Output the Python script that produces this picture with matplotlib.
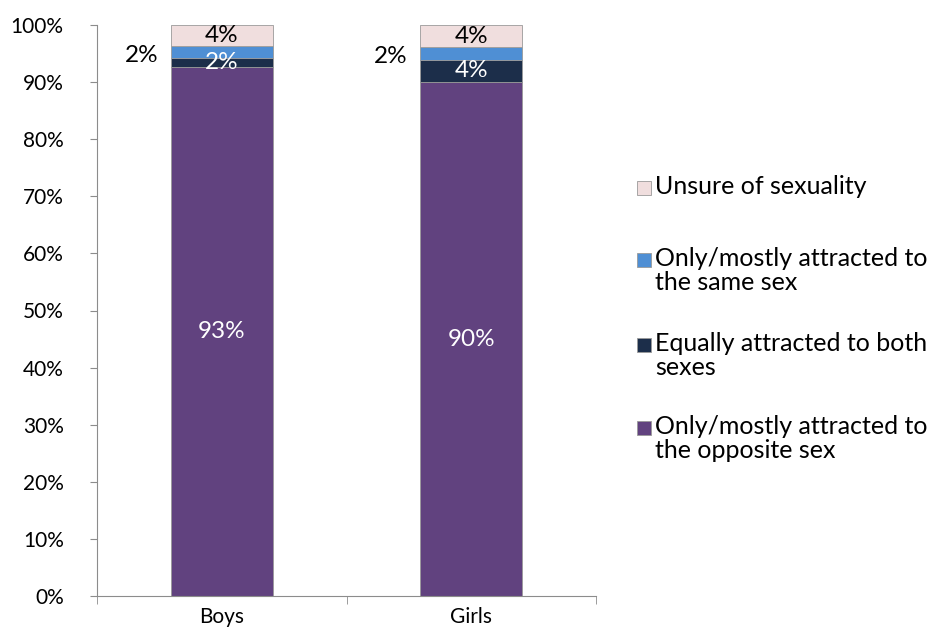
import matplotlib.pyplot as plt
from matplotlib.patches import Rectangle
import numpy as np

plt.rcParams['font.family'] = ['Lato', 'DejaVu Sans']

groups = ["Boys", "Girls"]
opposite = [92.6, 90.0]
both = [1.6, 3.9]
same = [2.1, 2.2]
unsure = [3.7, 3.9]

opposite_lbl = ["93%", "90%"]
both_lbl = ["2%", "4%"]
same_lbl = ["2%", "2%"]
unsure_lbl = ["4%", "4%"]

series = [
	(opposite, "Only/mostly attracted to\nthe opposite sex", "#61427f"),
	(both, "Equally attracted to both\nsexes", "#1c2e4a"),
	(same, "Only/mostly attracted to\nthe same sex", "#4f8fd4"),
	(unsure, "Unsure of sexuality", "#f0dede"),
]

W, H = 930, 633
fig = plt.figure(figsize=(W / 100, H / 100), dpi=100)
ax = fig.add_axes([97 / W, 1 - 596 / H, 499 / W, 571 / H])

x = np.arange(len(groups))
w = 0.41
bottom = np.zeros(len(groups))
for vals, name, col in series:
	ax.bar(x, vals, w, bottom=bottom, color=col, edgecolor="#9a9a9a", linewidth=0.6)
	bottom = bottom + np.array(vals)

lfs = 17.5
for i in range(len(groups)):
	ax.text(x[i], opposite[i] / 2, opposite_lbl[i], ha="center", va="center", color="white", fontsize=lfs)
	y_both = opposite[i] + both[i] / 2
	ax.text(x[i], y_both, both_lbl[i], ha="center", va="center", color="white", fontsize=lfs)
	y_same = opposite[i] + both[i] + same[i] / 2
	ax.text(x[i] - w / 2 - 0.05, y_same - 0.6, same_lbl[i], ha="right", va="center", color="black", fontsize=lfs)
	y_uns = opposite[i] + both[i] + same[i] + unsure[i] / 2
	ax.text(x[i], y_uns, unsure_lbl[i], ha="center", va="center", color="black", fontsize=lfs)

ax.set_xlim(-0.5, 1.5)
ax.set_ylim(0, 100)
ax.set_yticks(np.arange(0, 101, 10))
ax.set_yticklabels([f"{v}%" for v in range(0, 101, 10)], fontsize=15)
ax.set_xticks(x)
ax.set_xticklabels(groups, fontsize=15)
ax.tick_params(axis="x", which="major", length=0, pad=8)
ax.set_xticks([-0.5, 0.5, 1.5], minor=True)
ax.tick_params(axis="x", which="minor", length=6, color="#8c8c8c")
ax.tick_params(axis="y", length=5, color="#8c8c8c", pad=19)
for s in ["top", "right"]:
	ax.spines[s].set_visible(False)
for s in ["left", "bottom"]:
	ax.spines[s].set_color("#8c8c8c")

# legend, drawn like the Excel one: marker beside the first line of each entry
leg_y = [188, 260, 345, 428]
for (vals, name, col), yy in zip(series[::-1], leg_y):
	fig.patches.append(Rectangle((637 / W, 1 - (yy + 7) / H), 14 / W, 14 / H,
		transform=fig.transFigure, facecolor=col, edgecolor="#9a9a9a", linewidth=0.6))
	fig.text(655 / W, 1 - (yy - 13) / H, name, ha="left", va="top", fontsize=18, linespacing=1.05)

fig.savefig("out.png", dpi=100)
